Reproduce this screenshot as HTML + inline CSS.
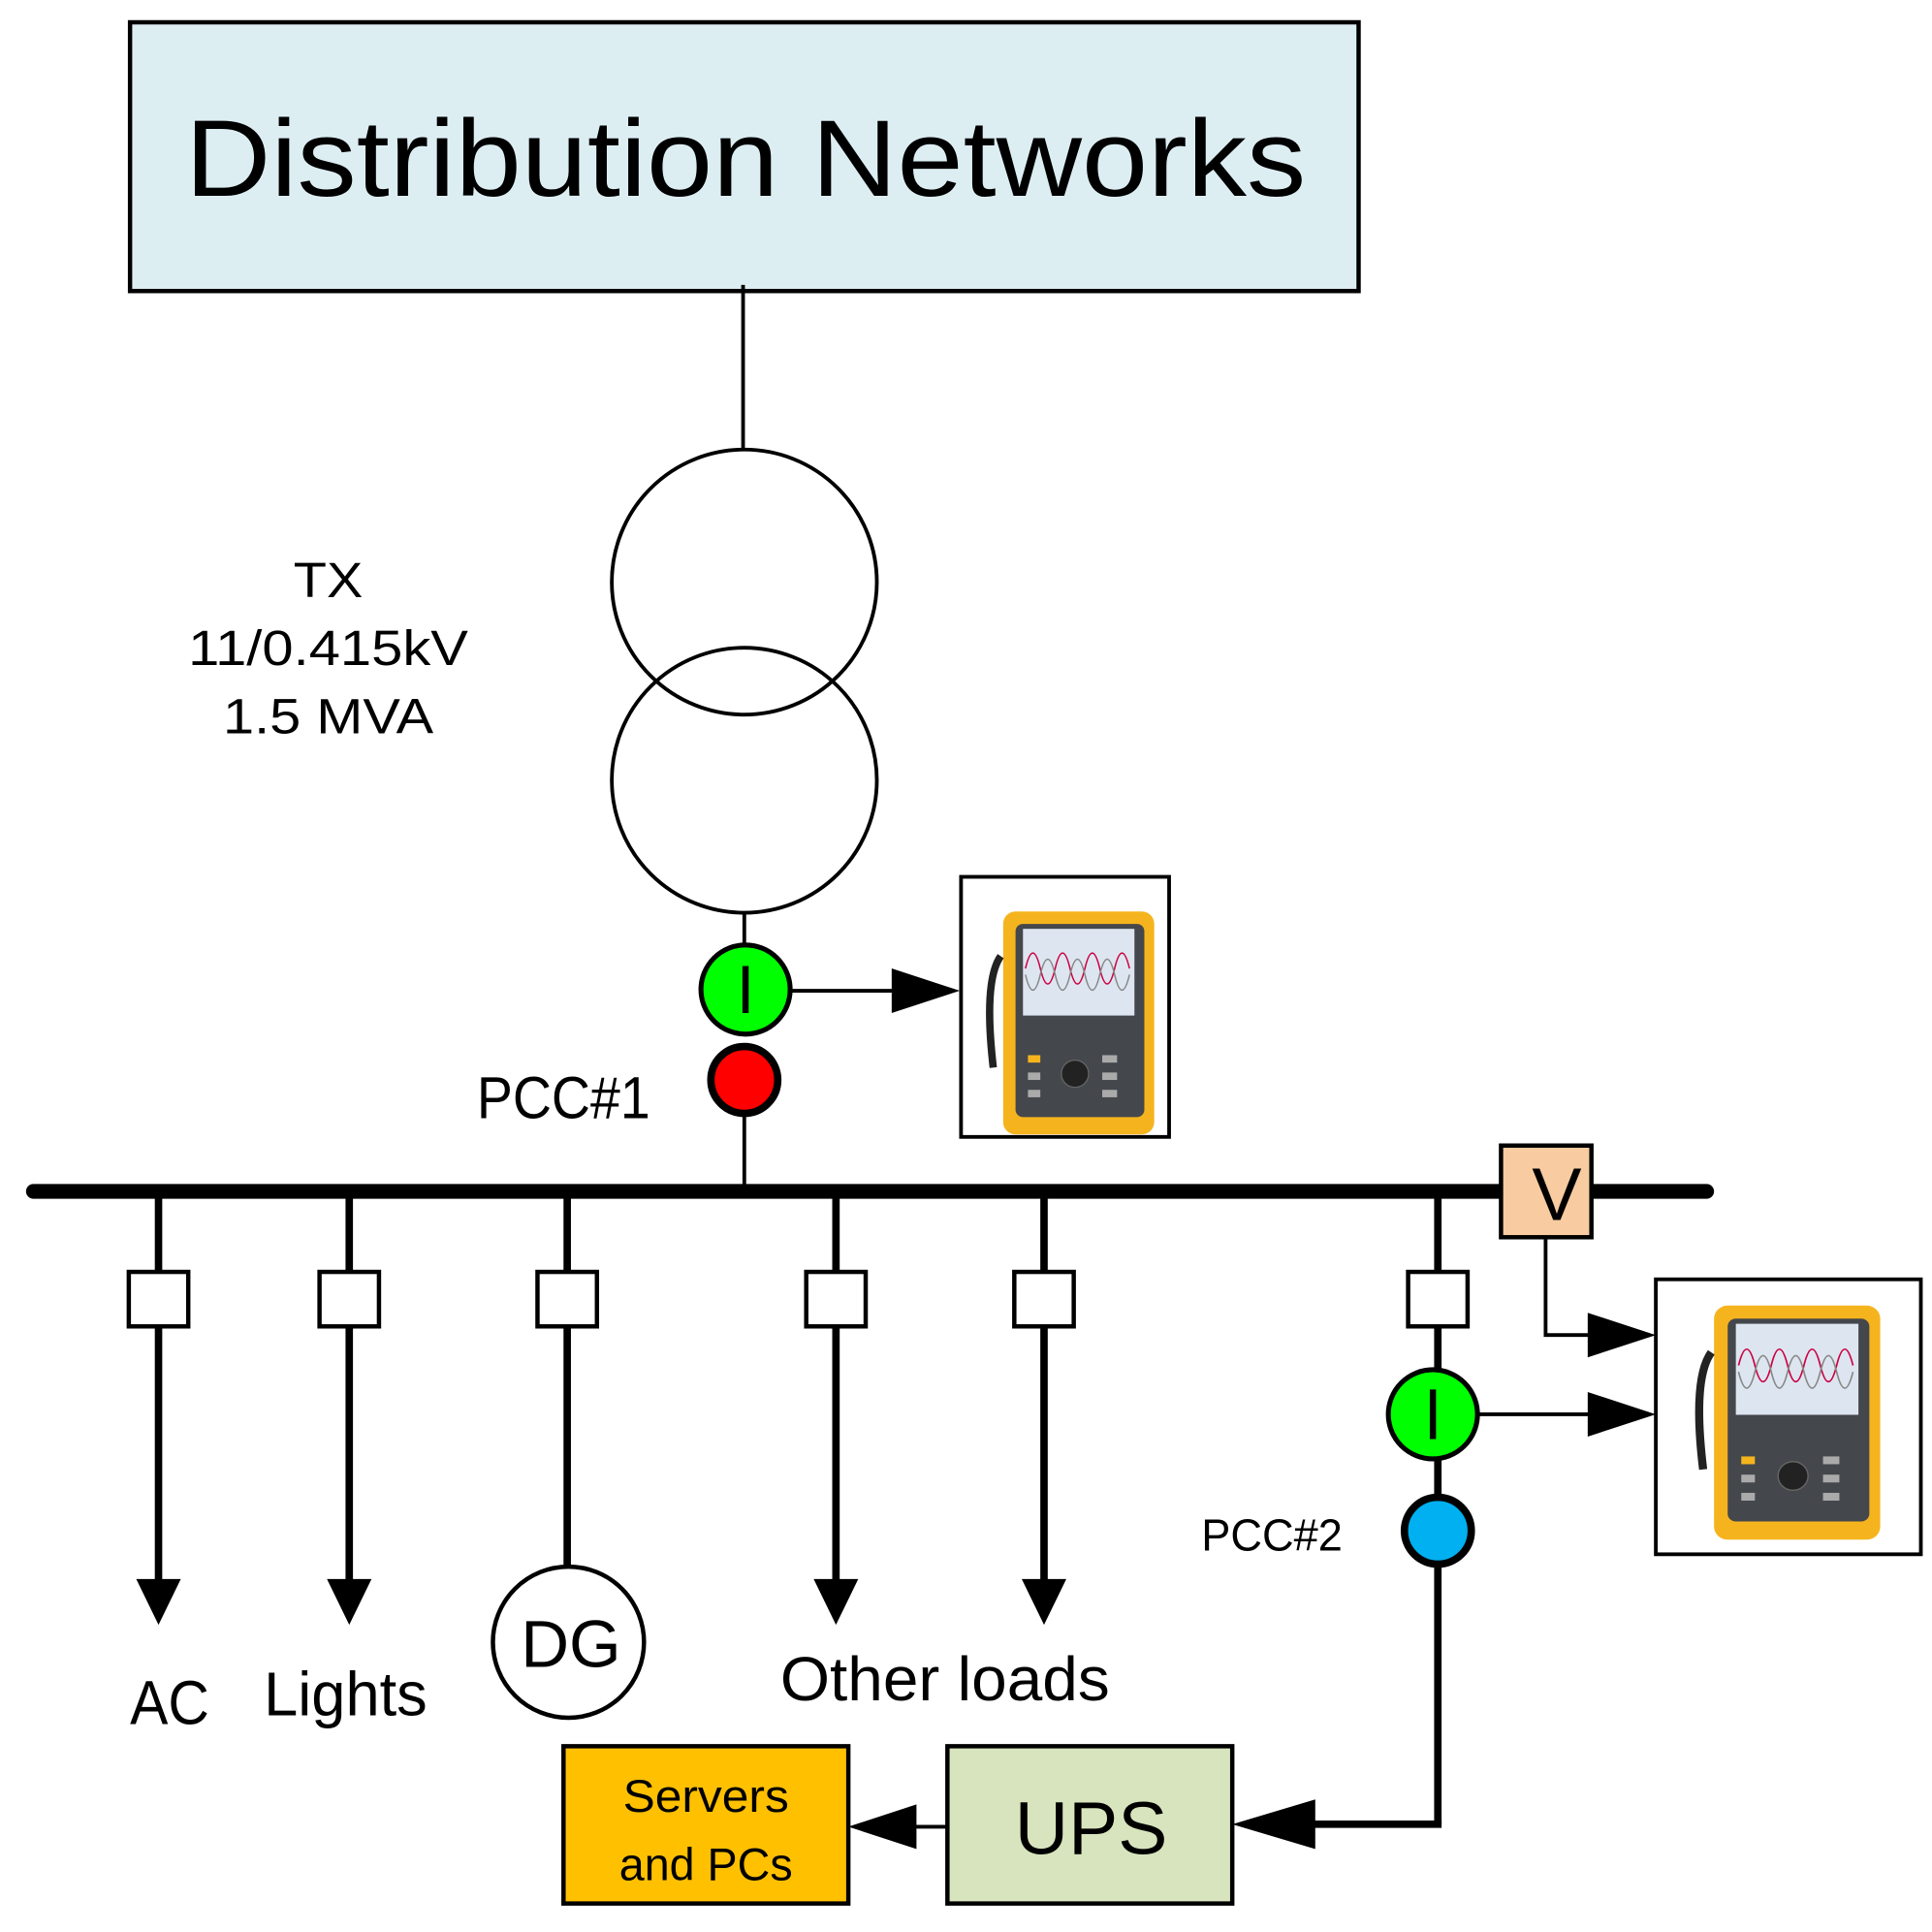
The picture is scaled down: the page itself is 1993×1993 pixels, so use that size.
<!DOCTYPE html>
<html><head><meta charset="utf-8"><style>html,body{margin:0;padding:0;background:#fff}svg{display:block}</style></head>
<body>
<svg width="1993" height="1993" viewBox="0 0 1560 1560" xmlns="http://www.w3.org/2000/svg" font-family="Liberation Sans, sans-serif">
<rect x="105" y="18" width="992" height="217" fill="#DDEEF3" stroke="#000" stroke-width="3.5"/>
<text x="602" y="158" font-size="88" text-anchor="middle" textLength="905" lengthAdjust="spacingAndGlyphs">Distribution Networks</text>
<line x1="600" y1="230" x2="600" y2="363" stroke="#000" stroke-width="3"/>
<circle cx="601" cy="470" r="107" fill="none" stroke="#000" stroke-width="3"/>
<circle cx="601" cy="630" r="107" fill="none" stroke="#000" stroke-width="3"/>
<g font-size="40" text-anchor="middle">
<text x="265" y="482" textLength="56" lengthAdjust="spacingAndGlyphs">TX</text>
<text x="265" y="537" textLength="226" lengthAdjust="spacingAndGlyphs">11/0.415kV</text>
<text x="265" y="592" textLength="170" lengthAdjust="spacingAndGlyphs">1.5 MVA</text>
</g>
<line x1="601" y1="737" x2="601" y2="765" stroke="#000" stroke-width="3"/>
<line x1="601" y1="900" x2="601" y2="962" stroke="#000" stroke-width="3"/>
<circle cx="602" cy="799" r="36" fill="#00FF00" stroke="#000" stroke-width="4"/>
<line x1="602" y1="780" x2="602" y2="818" stroke="#000" stroke-width="5"/>
<circle cx="601" cy="872" r="27" fill="#FF0000" stroke="#000" stroke-width="6"/>
<line x1="638" y1="800" x2="725" y2="800" stroke="#000" stroke-width="3"/>
<polygon points="720,782 775,800 720,818" fill="#000"/>
<text x="385" y="903" font-size="48" textLength="140" lengthAdjust="spacingAndGlyphs">PCC#1</text>
<rect x="776" y="708" width="168" height="210" fill="#fff" stroke="#000" stroke-width="3"/>
<g transform="translate(790,732)">
<rect x="20" y="4" width="122" height="180" rx="10" fill="#F5B41E"/>
<rect x="30" y="14" width="104" height="156" rx="6" fill="#44474c"/>
<rect x="36" y="18" width="90" height="70" fill="#dde6f0"/>
<path d="M38 50 q6 -25 12 0 t12 0 t12 0 t12 0 t12 0 t12 0 t12 0" fill="none" stroke="#c04" stroke-width="1.2"/>
<path d="M38 55 q6 25 12 0 t12 0 t12 0 t12 0 t12 0 t12 0 t12 0" fill="none" stroke="#888" stroke-width="1.2"/>
<circle cx="78" cy="135" r="11" fill="#222" stroke="#666"/>
<rect x="40" y="120" width="10" height="6" fill="#F5B41E"/>
<rect x="40" y="134" width="10" height="6" fill="#aaa"/>
<rect x="40" y="148" width="10" height="6" fill="#aaa"/>
<rect x="100" y="120" width="12" height="6" fill="#aaa"/>
<rect x="100" y="134" width="12" height="6" fill="#aaa"/>
<rect x="100" y="148" width="12" height="6" fill="#aaa"/>
<path d="M18 40 q-14 20 -6 90" fill="none" stroke="#222" stroke-width="6"/>
</g>
<line x1="27" y1="962" x2="1378" y2="962" stroke="#000" stroke-width="12" stroke-linecap="round"/>
<g stroke="#000" stroke-width="6">
<line x1="128" y1="962" x2="128" y2="1285"/>
<line x1="282" y1="962" x2="282" y2="1285"/>
<line x1="458" y1="962" x2="458" y2="1266"/>
<line x1="675" y1="962" x2="675" y2="1285"/>
<line x1="843" y1="962" x2="843" y2="1285"/>
<line x1="1161" y1="962" x2="1161" y2="1473"/>
<line x1="1164" y1="1473" x2="1055" y2="1473"/>
</g>
<g fill="#000">
<polygon points="110,1275 146,1275 128,1312"/>
<polygon points="264,1275 300,1275 282,1312"/>
<polygon points="657,1275 693,1275 675,1312"/>
<polygon points="825,1275 861,1275 843,1312"/>
<polygon points="1062,1453 1062,1493 995,1473"/>
</g>
<g fill="#fff" stroke="#000" stroke-width="3.5">
<rect x="104" y="1027" width="48" height="44"/>
<rect x="258" y="1027" width="48" height="44"/>
<rect x="434" y="1027" width="48" height="44"/>
<rect x="651" y="1027" width="48" height="44"/>
<rect x="819" y="1027" width="48" height="44"/>
<rect x="1137" y="1027" width="48" height="44"/>
</g>
<circle cx="459" cy="1326" r="61" fill="#fff" stroke="#000" stroke-width="3.5"/>
<text x="461" y="1346" font-size="54" text-anchor="middle">DG</text>
<text x="105" y="1392" font-size="50" textLength="64" lengthAdjust="spacingAndGlyphs">AC</text>
<text x="213" y="1385" font-size="50" textLength="132" lengthAdjust="spacingAndGlyphs">Lights</text>
<text x="630" y="1373" font-size="50" textLength="266" lengthAdjust="spacingAndGlyphs">Other loads</text>
<polyline points="1248,999 1248,1078 1290,1078" fill="none" stroke="#000" stroke-width="3"/>
<polygon points="1282,1060 1337,1078 1282,1096" fill="#000"/>
<rect x="1212" y="925" width="73" height="74" fill="#F8CBA0" stroke="#000" stroke-width="3.5"/>
<text x="1257" y="985" font-size="60" text-anchor="middle">V</text>
<circle cx="1157" cy="1142" r="36" fill="#00FF00" stroke="#000" stroke-width="4"/>
<line x1="1157" y1="1122" x2="1157" y2="1162" stroke="#000" stroke-width="5"/>
<line x1="1194" y1="1142" x2="1290" y2="1142" stroke="#000" stroke-width="3"/>
<polygon points="1282,1124 1337,1142 1282,1160" fill="#000"/>
<circle cx="1161" cy="1236" r="27" fill="#00B0F0" stroke="#000" stroke-width="6"/>
<text x="970" y="1252" font-size="36" textLength="114" lengthAdjust="spacingAndGlyphs">PCC#2</text>
<rect x="1337" y="1033" width="214" height="222" fill="#fff" stroke="#000" stroke-width="3"/>
<g transform="translate(1362,1050) scale(1.1,1.05)">
<rect x="20" y="4" width="122" height="180" rx="10" fill="#F5B41E"/>
<rect x="30" y="14" width="104" height="156" rx="6" fill="#44474c"/>
<rect x="36" y="18" width="90" height="70" fill="#dde6f0"/>
<path d="M38 50 q6 -25 12 0 t12 0 t12 0 t12 0 t12 0 t12 0 t12 0" fill="none" stroke="#c04" stroke-width="1.2"/>
<path d="M38 55 q6 25 12 0 t12 0 t12 0 t12 0 t12 0 t12 0 t12 0" fill="none" stroke="#888" stroke-width="1.2"/>
<circle cx="78" cy="135" r="11" fill="#222" stroke="#666"/>
<rect x="40" y="120" width="10" height="6" fill="#F5B41E"/>
<rect x="40" y="134" width="10" height="6" fill="#aaa"/>
<rect x="40" y="148" width="10" height="6" fill="#aaa"/>
<rect x="100" y="120" width="12" height="6" fill="#aaa"/>
<rect x="100" y="134" width="12" height="6" fill="#aaa"/>
<rect x="100" y="148" width="12" height="6" fill="#aaa"/>
<path d="M18 40 q-14 20 -6 90" fill="none" stroke="#222" stroke-width="6"/>
</g>
<rect x="765" y="1410" width="230" height="127" fill="#D7E4BD" stroke="#000" stroke-width="3.5"/>
<text x="881" y="1497" font-size="60" text-anchor="middle">UPS</text>
<line x1="765" y1="1475" x2="735" y2="1475" stroke="#000" stroke-width="3"/>
<polygon points="740,1457 740,1493 685,1475" fill="#000"/>
<rect x="455" y="1410" width="230" height="127" fill="#FFC000" stroke="#000" stroke-width="3.5"/>
<g font-size="37" text-anchor="middle">
<text x="570" y="1463" textLength="134" lengthAdjust="spacingAndGlyphs">Servers</text>
<text x="570" y="1518" textLength="140" lengthAdjust="spacingAndGlyphs">and PCs</text>
</g>
</svg>
</body></html>
